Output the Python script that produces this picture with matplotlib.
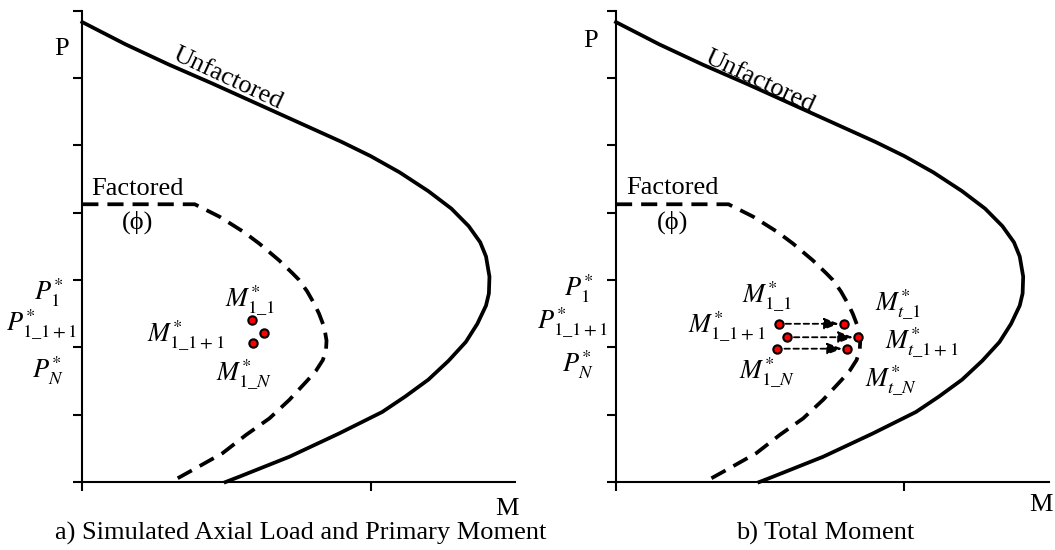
import matplotlib
matplotlib.use("Agg")
import matplotlib.pyplot as plt

plt.rcParams['font.family'] = ['Liberation Serif', 'DejaVu Serif']
plt.rcParams['mathtext.fontset'] = 'stix'

# Interaction diagram curves (M, P) in nominal units
unfactored_m = [0.0, 0.15, 0.30, 0.45, 0.60, 0.75, 0.90, 1.00, 1.10, 1.20, 1.28,
                1.34, 1.38, 1.40, 1.412, 1.41, 1.40, 1.37, 1.33, 1.27, 1.20, 1.12,
                1.04, 0.89, 0.718, 0.545, 0.497]
unfactored_p = [6.83, 6.50, 6.20, 5.92, 5.63, 5.34, 5.05, 4.84, 4.60, 4.32, 4.06,
                3.80, 3.56, 3.35, 3.05, 2.80, 2.62, 2.35, 2.08, 1.80, 1.52, 1.27,
                1.04, 0.72, 0.375, 0.08, 0.0]

factored_m = [0.0, 0.39, 0.476, 0.561, 0.614, 0.683, 0.729, 0.752, 0.780, 0.804,
              0.821, 0.839, 0.847, 0.845, 0.834, 0.810, 0.781, 0.718, 0.649, 0.568,
              0.487, 0.40, 0.32]
factored_p = [4.125, 4.125, 3.94, 3.71, 3.54, 3.29, 3.10, 3.00, 2.83, 2.65,
              2.50, 2.30, 2.10, 1.95, 1.81, 1.65, 1.51, 1.22, 0.945, 0.70,
              0.43, 0.22, 0.03]

# Panel a: simulated load / primary moment pairs
primary_m_a = [0.589, 0.629, 0.592]
primary_p_a = [2.40, 2.215, 2.07]

# Panel b: primary moments shifted to total moments
primary_m_b = [0.564, 0.593, 0.560]
total_m_b = [0.790, 0.839, 0.801]
load_p_b = [2.35, 2.15, 1.98]

p_labels = [r'$P^{*}_{1}$', r'$P^{*}_{1\_1+1}$', r'$P^{*}_{N}$']
m1_labels = [r'$M^{*}_{1\_1}$', r'$M^{*}_{1\_1+1}$', r'$M^{*}_{1\_N}$']
mt_labels = [r'$M^{*}_{t\_1}$', r'$M^{*}_{t\_1+1}$', r'$M^{*}_{t\_N}$']
captions = ['a) Simulated Axial Load and Primary Moment', 'b) Total Moment']

FS = 19
DASH = (0, (4.3, 2.4))

fig = plt.figure(figsize=(10.55, 5.5), dpi=100)
ax_a = fig.add_axes([0.078, 0.1236, 0.41, 0.857])
ax_b = fig.add_axes([0.5839, 0.1236, 0.41, 0.857])


def base(ax, caption, cap_x, m_y, p_pos, p_lab_pos, m1_pos, u_pos, f_pos):
    ax.set_xlim(0, 1.5)
    ax.set_ylim(0, 7)
    for s in ('top', 'right'):
        ax.spines[s].set_visible(False)
    for s in ('left', 'bottom'):
        ax.spines[s].set_linewidth(1.5)
    ax.set_xticks([0, 1])
    ax.set_yticks(range(8))
    ax.tick_params(direction='out', length=6.5, width=1.5,
                   labelbottom=False, labelleft=False)
    ax.plot(unfactored_m, unfactored_p, color='black', lw=2.7,
            solid_joinstyle='round', clip_on=False)
    ax.plot(factored_m, factored_p, color='black', lw=2.7, linestyle=DASH,
            clip_on=False)
    ax.text(p_pos[0], p_pos[1], 'P', fontsize=FS, ha='center', va='center')
    ax.text(1.472, m_y, 'M', fontsize=FS, ha='center', va='center', clip_on=False)
    ax.text(cap_x, -0.757, caption, fontsize=FS, ha='center', va='center',
            clip_on=False)
    ax.text(u_pos[0], u_pos[1], 'Unfactored', fontsize=FS, rotation=-25,
            rotation_mode='anchor', ha='center', va='center')
    ax.text(f_pos[0], f_pos[1], 'Factored', fontsize=FS, ha='center', va='center')
    ax.text(f_pos[0], f_pos[1] - 0.5, '(\u03d5)', fontsize=FS, ha='center',
            va='center')
    for (x, y), lab in zip(p_lab_pos, p_labels):
        ax.text(x, y, lab, fontsize=FS, ha='center', va='center', clip_on=False)
    for (x, y), lab in zip(m1_pos, m1_labels):
        ax.text(x, y, lab, fontsize=FS, ha='center', va='center')


base(ax_a, captions[0], 0.756, -0.40, (-0.072, 6.43),
     [(-0.117, 2.82), (-0.140, 2.33), (-0.120, 1.66)],
     [(0.583, 2.69), (0.358, 2.17), (0.561, 1.60)],
     (0.503, 5.99), (0.191, 4.35))
ax_a.plot(primary_m_a, primary_p_a, 'o', ms=6, mfc='red', mec='black', mew=1.5,
          zorder=5)

base(ax_b, captions[1], 0.724, -0.34, (-0.087, 6.55),
     [(-0.129, 2.88), (-0.152, 2.36), (-0.134, 1.74)],
     [(0.525, 2.75), (0.383, 2.31), (0.525, 1.63)],
     (0.50, 5.95), (0.195, 4.36))
for x0, x1, y in zip(primary_m_b, total_m_b, load_p_b):
    ax_b.annotate('', xy=(x1, y), xytext=(x0, y),
                  arrowprops=dict(arrowstyle='-|>,head_length=0.9,head_width=0.35',
                                  mutation_scale=10, lw=1.3, color='black',
                                  linestyle=(0, (3, 2)), shrinkA=5, shrinkB=3.5),
                  zorder=4)
ax_b.plot(primary_m_b, load_p_b, 'o', ms=6, mfc='red', mec='black', mew=1.5,
          zorder=5)
ax_b.plot(total_m_b, load_p_b, 'o', ms=6, mfc='red', mec='black', mew=1.5,
          zorder=5)
for (x, y), lab in zip([(0.977, 2.64), (1.06, 2.07), (0.954, 1.50)], mt_labels):
    ax_b.text(x, y, lab, fontsize=FS, ha='center', va='center')

fig.savefig('out.png', dpi=100)
